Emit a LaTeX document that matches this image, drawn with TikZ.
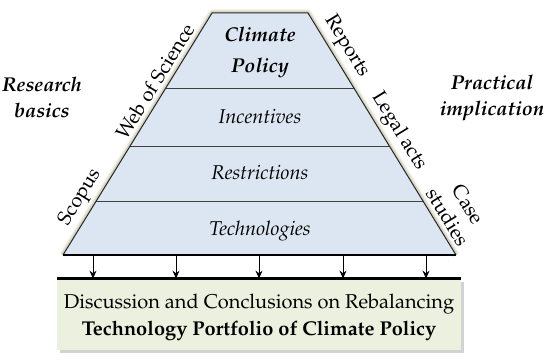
\documentclass[tikz,border=0pt]{standalone}
\usepackage[T1]{fontenc}
\usepackage{mathpazo}
\usetikzlibrary{calc,shadows,arrows.meta}
\definecolor{layerblue}{HTML}{DCE6F2}
\definecolor{boxgreen}{HTML}{EBF1DE}
\begin{document}
\begin{tikzpicture}[x=0.5pt,y=-0.5pt,
  every node/.style={font=\fontsize{10}{13.5}\selectfont},
  layer/.style={font=\fontsize{10}{13.5}\selectfont\itshape},
  side/.style={font=\fontsize{10}{13}\selectfont\bfseries\itshape, align=center},
  src/.style={sloped, above, inner sep=2.5pt, align=center, font=\fontsize{10}{12}\selectfont},
  glow/.style={line join=round, draw=olive!45!gray, opacity=#1},
  concbox/.style={fill=boxgreen, minimum width=196pt, minimum height=35.5pt, align=center, text depth=0pt,
    drop shadow={shadow xshift=1.5pt, shadow yshift=-1.5pt, opacity=0.35}}]
\useasboundingbox (0,0) rectangle (550,362);
\coordinate (tl) at (212,13);
\coordinate (tr) at (308,13);
\coordinate (bl) at (63,255);
\coordinate (br) at (456,255);
% soft glow round the pyramid
\foreach \w/\o in {4/0.08,3/0.12,2/0.2}
  \draw[glow=\o, line width=\w pt] (bl) -- (tl) -- (tr) -- (br);
\fill[layerblue] (bl) -- (tl) -- (tr) -- (br) -- cycle;
\foreach \f in {0.314,0.55,0.781}
  \draw[gray!50!black, line width=0.5pt] ($(tl)!\f!(bl)$) -- ($(tr)!\f!(br)$);
\draw[gray!30!black, line width=0.5pt] (bl) -- (tl) -- (tr) -- (br);
\draw[line width=1.2pt] (bl) -- (br);
% layers
\node[layer, font=\fontsize{10}{15.5}\selectfont\bfseries\itshape, align=center] (policy) at (260,52.5) {Climate\\Policy};
\node[layer, anchor=base] (incent) at (260,124) {Incentives};
\node[layer, anchor=base] (restr) at (260,180) {Restrictions};
\node[layer, anchor=base] (techn) at (260,236) {Technologies};
% sources along the edges
\path (bl) -- (tl) node[src, pos=0.205] (scopus) {Scopus}
                   node[src, pos=0.69] (wos) {Web of Science};
\path (tr) -- (br) node[src, pos=0.172] (reports) {Reports}
                   node[src, pos=0.523] (legal) {Legal acts}
                   node[src, pos=0.87] (cases) {Case\\studies};
\node[side] (research) at (42,98) {Research\\basics};
\node[side] (practical) at (492,98) {Practical\\implication};
% conclusions
\node[concbox] (concl) at (259,314.5) {Discussion and Conclusions on Rebalancing\\\textbf{Technology Portfolio of Climate Policy}};
\draw[line width=1.2pt] (concl.north west) -- (concl.north east);
\foreach \x [count=\i] in {93,176,259,343,426} {
  \coordinate (a\i) at (\x,255);
  \draw[-{Stealth[length=4pt,width=3.5pt]}, line width=0.5pt] (a\i) -- (a\i |- concl.north);
}
\end{tikzpicture}
\end{document}
